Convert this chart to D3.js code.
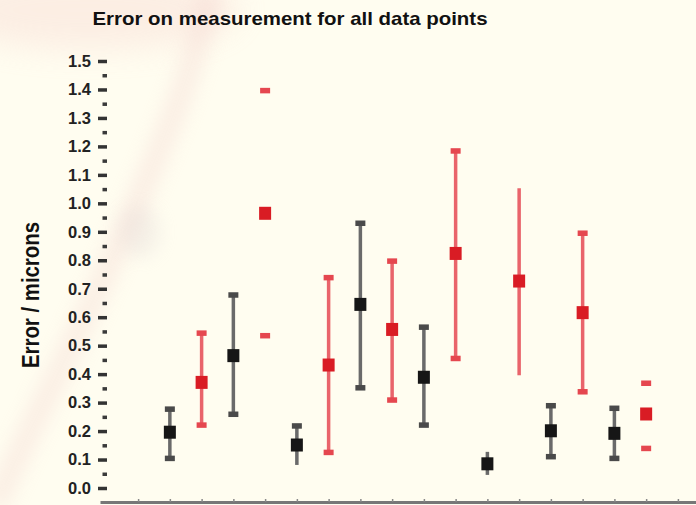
<!DOCTYPE html>
<html>
<head>
<meta charset="utf-8">
<script src="https://cdn.jsdelivr.net/npm/d3@7"></script>
<style>
  html, body { margin: 0; padding: 0; background: #fffdf0; }
  svg { display: block; }
</style>
</head>
<body>
<svg id="chart" width="696" height="505"></svg>
<script>
// Measurement points, numbered along the x axis
const categories = ["1","2","3","4","5","6","7","8","9","10","11","12","13","14","15","16"];

// Series A (black): odd-numbered points
const centreA = [0.196, 0.465, 0.151, 0.645, 0.389, 0.085, 0.201, 0.192];
const lowerA  = [0.104, 0.259, 0.081, 0.352, 0.221, 0.046, 0.110, 0.104];
const upperA  = [0.277, 0.678, 0.218, 0.930, 0.565, 0.127, 0.289, 0.280];

// Series B (red): even-numbered points
const centreB = [0.371, 0.965, 0.432, 0.557, 0.824, 0.727, 0.616, 0.260];
const lowerB  = [0.221, 0.535, 0.125, 0.309, 0.455, 0.396, 0.338, 0.139];
const upperB  = [0.544, 1.396, 0.739, 0.797, 1.184, 1.053, 0.895, 0.368];

const yTickLabels = ["0.0","0.1","0.2","0.3","0.4","0.5","0.6","0.7","0.8","0.9","1.0","1.1","1.2","1.3","1.4","1.5"];

// Interleave the two series into one list of points
const points = categories.map((c, i) => {
  const k = Math.floor(i / 2);
  const isA = i % 2 === 0;
  return {
    id: c, idx: i, series: isA ? "A" : "B",
    centre: isA ? centreA[k] : centreB[k],
    lower:  isA ? lowerA[k]  : lowerB[k],
    upper:  isA ? upperA[k]  : upperB[k]
  };
});

// Bars drawn without a stem, and bar ends drawn without a cap
const noStem = new Set([3, 15]);
const noCap = { 4: ["lower"], 10: ["upper", "lower"], 11: ["upper", "lower"] };

const colours = {
  A: { marker: "#161616", stem: "#6a6a6a", cap: "#4a4a4a" },
  B: { marker: "#d91c24", stem: "#e9646b", cap: "#e5474f" }
};

const svg = d3.select("#chart");
const W = 696, H = 505;

// Soft tinted background wash
const defs = svg.append("defs");
defs.append("filter").attr("id", "soft").attr("x", "-50%").attr("y", "-50%").attr("width", "200%").attr("height", "200%")
  .append("feGaussianBlur").attr("stdDeviation", 16);
defs.append("filter").attr("id", "softer").attr("x", "-50%").attr("y", "-50%").attr("width", "200%").attr("height", "200%")
  .append("feGaussianBlur").attr("stdDeviation", 9);

svg.append("rect").attr("width", W).attr("height", H).attr("fill", "#fffdf0");
const wash = svg.append("g");
wash.append("ellipse").attr("cx", 90).attr("cy", 10).attr("rx", 150).attr("ry", 40)
  .attr("fill", "#f6d2cc").attr("opacity", 0.35).attr("filter", "url(#soft)");
wash.append("path")
  .attr("d", "M210,-10 C198,60 168,130 138,200 S75,340 45,400 S12,470 -5,505")
  .attr("fill", "none").attr("stroke", "#f2cfcb").attr("stroke-width", 24)
  .attr("opacity", 0.3).attr("filter", "url(#softer)");
wash.append("ellipse").attr("cx", 140).attr("cy", 232).attr("rx", 20).attr("ry", 26)
  .attr("fill", "#d8cccd").attr("opacity", 0.25).attr("filter", "url(#softer)");

// Scales
const y = d3.scaleLinear().domain([0, 1.5]).range([488, 61]);
const x = d3.scaleLinear().domain([-2.2, 16.57]).range([100, 696]);

// Title
svg.append("text")
  .attr("x", 290).attr("y", 25)
  .attr("text-anchor", "middle")
  .attr("font-family", "'Liberation Sans Narrow', 'Liberation Sans', Arial, sans-serif")
  .attr("font-weight", "bold").attr("font-size", 19)
  .attr("textLength", 395).attr("lengthAdjust", "spacingAndGlyphs")
  .attr("fill", "#111")
  .text("Error on measurement for all data points");

// Y axis title
svg.append("text")
  .attr("transform", "translate(39,295) rotate(-90)")
  .attr("text-anchor", "middle")
  .attr("font-family", "'Liberation Sans Narrow', 'Liberation Sans', Arial, sans-serif")
  .attr("font-weight", "bold").attr("font-size", 23)
  .attr("textLength", 146).attr("lengthAdjust", "spacingAndGlyphs")
  .attr("fill", "#111")
  .text("Error / microns");

// Y axis: major ticks with labels, minor ticks between
const majorVals = yTickLabels.map(Number);
const minorVals = majorVals.slice(0, -1).map(v => +(v + 0.05).toFixed(2));

const yAxis = svg.append("g")
  .attr("transform", "translate(107,0)")
  .call(d3.axisLeft(y).tickValues(majorVals).tickSize(9).tickPadding(7)
    .tickFormat((d, i) => yTickLabels[i]));
yAxis.select(".domain").remove();
yAxis.selectAll(".tick line").attr("stroke", "#333").attr("stroke-width", 3.5);
yAxis.selectAll(".tick text")
  .attr("font-family", "'Liberation Sans', Arial, sans-serif")
  .attr("font-weight", "bold").attr("font-size", 16.5).attr("fill", "#222");

const yMinor = svg.append("g")
  .attr("transform", "translate(107,0)")
  .call(d3.axisLeft(y).tickValues(minorVals).tickSize(4.5).tickFormat(""));
yMinor.select(".domain").remove();
yMinor.selectAll(".tick line").attr("stroke", "#3a3a3a").attr("stroke-width", 3.5);

// X axis line with small upward ticks
const xAxis = svg.append("g")
  .attr("transform", "translate(0,502)")
  .call(d3.axisTop(x).tickValues(d3.range(-1, 17)).tickSize(3).tickSizeOuter(0).tickFormat(""));
xAxis.select(".domain").attr("stroke", "#777").attr("stroke-width", 3);
xAxis.selectAll(".tick line").attr("stroke", "#888").attr("stroke-width", 1.5);

// Error bars
const bars = svg.append("g").selectAll("g.bar").data(points).join("g").attr("class", "bar");

bars.filter(d => !noStem.has(d.idx)).append("line")
  .attr("x1", d => x(d.idx)).attr("x2", d => x(d.idx))
  .attr("y1", d => y(d.upper)).attr("y2", d => y(d.lower))
  .attr("stroke", d => colours[d.series].stem).attr("stroke-width", 3.5);

const capW = 10, capH = 5.5;
["upper", "lower"].forEach(end => {
  bars.filter(d => !(noCap[d.idx] || []).includes(end)).append("rect")
    .attr("x", d => x(d.idx) - capW / 2)
    .attr("y", d => y(d[end]) - capH / 2)
    .attr("width", capW).attr("height", capH)
    .attr("fill", d => colours[d.series].cap);
});

const mW = 12, mH = 13;
bars.append("rect")
  .attr("x", d => x(d.idx) - mW / 2)
  .attr("y", d => y(d.centre) - mH / 2)
  .attr("width", mW).attr("height", mH)
  .attr("fill", d => colours[d.series].marker);
</script>
</body>
</html>
